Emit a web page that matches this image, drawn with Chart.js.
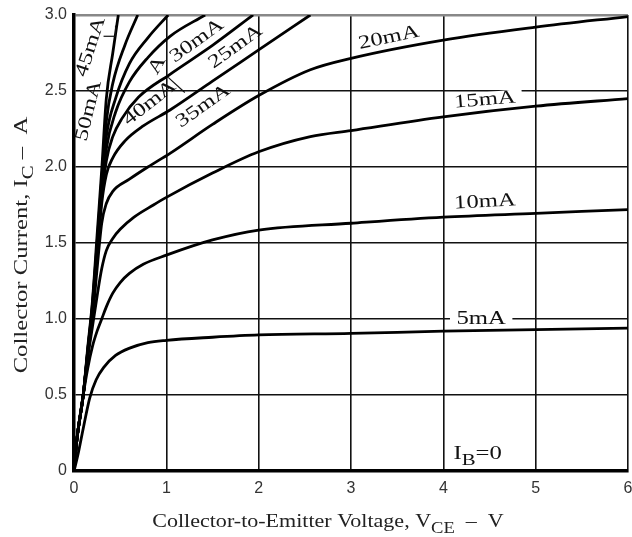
<!DOCTYPE html>
<html>
<head>
<meta charset="utf-8">
<script src="https://cdn.jsdelivr.net/npm/chart.js@4/dist/chart.umd.min.js"></script>
<style>
  body { margin: 0; background: #fff; }
  #wrap { width: 632px; height: 537px; }
</style>
</head>
<body>
<div id="wrap"><canvas id="ic-chart"></canvas></div>
<script>
// base current of each curve
const baseCurrents = ['5mA', '10mA', '15mA', '20mA', '25mA', '30mA', '35mA', '40mA', '45mA', '50mA'];

// VCE (V) and IC (A) pairs, one list per curve
const vce5 = [0, 0.04, 0.1, 0.17, 0.24, 0.32, 0.45, 0.61, 0.8, 1.0, 1.5, 2, 3, 4, 5, 6];
const ic5 = [0, 0.1, 0.28, 0.48, 0.6, 0.68, 0.76, 0.81, 0.845, 0.86, 0.88, 0.895, 0.905, 0.92, 0.93, 0.94];

const vce10 = [0, 0.03, 0.1, 0.15, 0.2, 0.25, 0.3, 0.35, 0.42, 0.5, 0.6, 0.75, 1.0, 1.5, 2, 3, 4, 5, 6];
const ic10 = [0, 0.2, 0.5, 0.68, 0.82, 0.92, 1.0, 1.08, 1.17, 1.24, 1.3, 1.36, 1.42, 1.52, 1.585, 1.63, 1.67, 1.695, 1.72];

const vce15 = [0, 0.03, 0.1, 0.15, 0.2, 0.25, 0.3, 0.35, 0.42, 0.5, 0.65, 0.86, 1.0, 1.5, 2, 2.56, 3, 4, 5, 6];
const ic15 = [0, 0.2, 0.5, 0.75, 0.95, 1.15, 1.33, 1.45, 1.53, 1.59, 1.67, 1.75, 1.8, 1.96, 2.1, 2.2, 2.24, 2.33, 2.4, 2.45];

const vce20 = [0, 0.03, 0.1, 0.15, 0.2, 0.25, 0.3, 0.35, 0.42, 0.6, 0.8, 1.04, 1.5, 2, 2.56, 3, 4, 5, 6];
const ic20 = [0, 0.2, 0.5, 0.77, 1.0, 1.33, 1.63, 1.76, 1.84, 1.92, 2.0, 2.09, 2.28, 2.47, 2.64, 2.715, 2.835, 2.92, 2.99];

const vce25 = [0, 0.03, 0.1, 0.15, 0.2, 0.25, 0.3, 0.35, 0.42, 0.55, 0.75, 1.04, 1.5, 2, 2.56];
const ic25 = [0, 0.2, 0.5, 0.78, 1.05, 1.4, 1.76, 1.95, 2.06, 2.17, 2.27, 2.375, 2.565, 2.77, 3.0];

const vce30 = [0, 0.03, 0.1, 0.15, 0.2, 0.25, 0.3, 0.35, 0.42, 0.52, 0.7, 1.04, 1.5, 1.94];
const ic30 = [0, 0.2, 0.5, 0.78, 1.05, 1.42, 1.8, 2.04, 2.2, 2.32, 2.46, 2.61, 2.8, 3.0];

const vce35 = [0, 0.03, 0.1, 0.15, 0.2, 0.25, 0.3, 0.35, 0.45, 0.6, 0.8, 1.04, 1.42];
const ic35 = [0, 0.2, 0.5, 0.79, 1.07, 1.45, 1.84, 2.12, 2.36, 2.56, 2.72, 2.86, 3.0];

const vce40 = [0, 0.03, 0.1, 0.15, 0.2, 0.25, 0.3, 0.35, 0.45, 0.6, 0.8, 1.02];
const ic40 = [0, 0.2, 0.5, 0.8, 1.08, 1.48, 1.88, 2.2, 2.45, 2.68, 2.85, 3.0];

const vce45 = [0, 0.03, 0.1, 0.15, 0.2, 0.25, 0.3, 0.35, 0.42, 0.55, 0.69];
const ic45 = [0, 0.2, 0.5, 0.8, 1.1, 1.5, 1.92, 2.3, 2.55, 2.8, 3.0];

const vce50 = [0, 0.03, 0.1, 0.15, 0.2, 0.25, 0.3, 0.35, 0.42, 0.48];
const ic50 = [0, 0.2, 0.5, 0.82, 1.12, 1.55, 1.98, 2.45, 2.75, 3.0];

const vceLists = [vce5, vce10, vce15, vce20, vce25, vce30, vce35, vce40, vce45, vce50];
const icLists = [ic5, ic10, ic15, ic20, ic25, ic30, ic35, ic40, ic45, ic50];

const xTicks = [0, 1, 2, 3, 4, 5, 6];
const yTicks = [0, 0.5, 1.0, 1.5, 2.0, 2.5, 3.0];

// where each curve name sits, in data units, and its tilt in degrees
const labelSpots = [
  { text: '5mA', x: 4.41, y: 1.0, rot: 0, clear: true },
  { text: '10mA', x: 4.45, y: 1.77, rot: -3 },
  { text: '15mA', x: 4.45, y: 2.44, rot: -5, clear: true },
  { text: '20mA', x: 3.41, y: 2.85, rot: -12 },
  { text: '25mA', x: 1.75, y: 2.79, rot: -36 },
  { text: '30mA', x: 1.33, y: 2.83, rot: -36 },
  { text: '35mA', x: 1.40, y: 2.40, rot: -35 },
  { text: '40mA', x: 0.82, y: 2.42, rot: -38 },
  { text: '45mA', x: 0.18, y: 2.79, rot: -72 },
  { text: '50mA', x: 0.16, y: 2.37, rot: -76 },
  { text: 'A', x: 0.9, y: 2.67, rot: -60 }
];

// short leader strokes next to some names, in data units
const leaders = [
  [1.02, 2.59, 1.2, 2.49],
  [0.32, 2.86, 0.45, 2.86],
  [0.45, 2.86, 0.45, 2.93]
];

function mkPoints(xs, ys) {
  return xs.map((v, i) => ({ x: v, y: ys[i] }));
}

const datasets = baseCurrents.map((name, i) => ({
  label: name,
  data: mkPoints(vceLists[i], icLists[i]),
  borderColor: '#000',
  borderWidth: 2.8,
  pointRadius: 0,
  showLine: true,
  fill: false,
  cubicInterpolationMode: 'monotone'
}));

const SERIF = '"Liberation Serif", "Times New Roman", serif';

// text with a lowered subscript, centred on x
function drawRich(ctx, parts, x, y, size) {
  const big = size + 'px ' + SERIF;
  const small = Math.round(size * 0.85) + 'px ' + SERIF;
  let w = 0;
  parts.forEach(p => {
    ctx.font = p.sub ? small : big;
    w += ctx.measureText(p.t).width;
  });
  let cx = x - w / 2;
  parts.forEach(p => {
    ctx.font = p.sub ? small : big;
    ctx.fillText(p.t, cx, p.sub ? y + size * 0.32 : y);
    cx += ctx.measureText(p.t).width;
  });
}

const textPlugin = {
  id: 'curveText',
  afterDatasetsDraw(chart) {
    const ctx = chart.ctx;
    const xs = chart.scales.x, ys = chart.scales.y;
    ctx.save();
    ctx.fillStyle = '#111';
    ctx.textBaseline = 'middle';
    ctx.textAlign = 'center';
    ctx.font = '19px ' + SERIF;
    labelSpots.forEach(l => {
      const px = xs.getPixelForValue(l.x), py = ys.getPixelForValue(l.y);
      ctx.save();
      ctx.translate(px, py);
      ctx.rotate(l.rot * Math.PI / 180);
      ctx.scale(1.3, 1);
      if (l.clear) {
        const w = ctx.measureText(l.text).width;
        ctx.fillStyle = '#fff';
        ctx.fillRect(-w / 2 - 5, -8, w + 10, 16);
        ctx.fillStyle = '#111';
      }
      ctx.fillText(l.text, 0, 0);
      ctx.restore();
    });

    ctx.strokeStyle = '#111';
    ctx.lineWidth = 1.2;
    leaders.forEach(s => {
      ctx.beginPath();
      ctx.moveTo(xs.getPixelForValue(s[0]), ys.getPixelForValue(s[1]));
      ctx.lineTo(xs.getPixelForValue(s[2]), ys.getPixelForValue(s[3]));
      ctx.stroke();
    });

    // IB = 0 note
    ctx.textAlign = 'left';
    ctx.textBaseline = 'alphabetic';
    ctx.save();
    ctx.translate(xs.getPixelForValue(4.11), ys.getPixelForValue(0.08));
    ctx.scale(1.3, 1);
    ctx.font = '19px ' + SERIF;
    ctx.fillText('I', 0, 0);
    let cx = ctx.measureText('I').width;
    ctx.font = '16px ' + SERIF;
    ctx.fillText('B', cx, 6);
    cx += ctx.measureText('B').width;
    ctx.font = '19px ' + SERIF;
    ctx.fillText('=0', cx, 0);
    ctx.restore();

    // axis titles
    ctx.fillStyle = '#222';
    ctx.save();
    ctx.translate(328, 527);
    ctx.scale(1.16, 1);
    drawRich(ctx, [{ t: 'Collector-to-Emitter Voltage, V' }, { t: 'CE', sub: true }, { t: '  \u2013  V' }], 0, 0, 19);
    ctx.restore();
    ctx.save();
    ctx.translate(27, 245);
    ctx.rotate(-Math.PI / 2);
    ctx.scale(1.3, 1);
    drawRich(ctx, [{ t: 'Collector Current, I' }, { t: 'C', sub: true }, { t: ' \u2013  A' }], 0, 0, 19);
    ctx.restore();
    ctx.restore();
  }
};

const tickFont = { family: '"Liberation Sans", Arial, sans-serif', size: 16 };

new Chart(document.getElementById('ic-chart'), {
  type: 'scatter',
  data: { datasets: datasets },
  options: {
    responsive: true,
    maintainAspectRatio: false,
    animation: false,
    layout: { padding: { top: 15, right: 4, left: 0, bottom: 0 } },
    plugins: { legend: { display: false }, tooltip: { enabled: false } },
    scales: {
      x: {
        type: 'linear',
        min: 0,
        max: 6,
        afterFit: s => { s.height = 66; s.paddingLeft = 0; s.paddingRight = 0; },
        afterBuildTicks: s => { s.ticks = xTicks.map(v => ({ value: v })); },
        ticks: { font: tickFont, color: '#333', padding: 8, callback: v => String(v) },
        grid: { color: '#111', lineWidth: 1.6, drawTicks: false },
        border: { color: '#000', width: 3.5 }
      },
      y: {
        min: 0,
        max: 3,
        afterFit: s => { s.width = 74; s.paddingTop = 0; s.paddingBottom = 0; },
        afterBuildTicks: s => { s.ticks = yTicks.map(v => ({ value: v })); },
        ticks: { font: tickFont, color: '#333', padding: 7, callback: v => (v === 0 ? '0' : v.toFixed(1)) },
        grid: {
          color: c => (c.tick && c.tick.value === 3 ? '#888' : '#111'),
          lineWidth: c => (c.tick && c.tick.value === 3 ? 2.5 : 1.6),
          drawTicks: false
        },
        border: { color: '#000', width: 3.5 }
      }
    }
  },
  plugins: [textPlugin]
});
</script>
</body>
</html>
